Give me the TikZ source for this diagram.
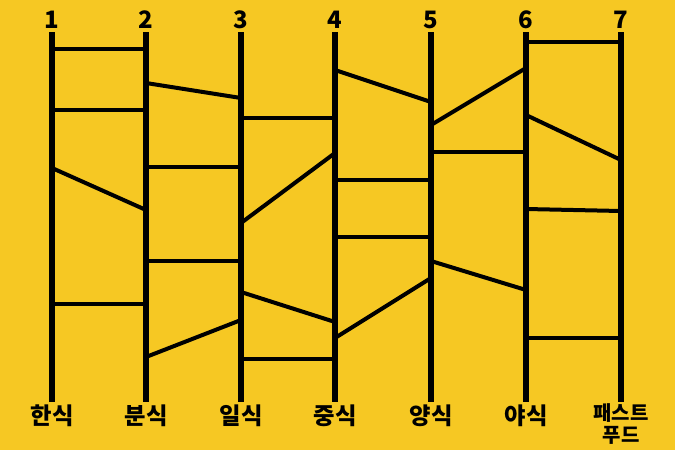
\documentclass[tikz,border=0pt]{standalone}
\usepackage{fontspec}
\newfontfamily\kr{Noto Sans CJK KR Black}
\usetikzlibrary{calc}
\definecolor{ladderyellow}{HTML}{F6C823}

\begin{document}
\begin{tikzpicture}[x=0.75pt,y=-0.75pt]
  \tikzstyle{leg}=[line width=4.2pt]
  \tikzstyle{rung}=[line width=3pt]
  \tikzstyle{num}=[font=\kr\fontsize{18}{18}\selectfont]
  \tikzstyle{food}=[font=\kr\fontsize{17.5}{17.5}\selectfont]
  \fill[ladderyellow] (0,0) rectangle (675,450);
  % legs of the ladder
  \foreach \i/\x/\name in {1/52/한식,2/146/분식,3/241/일식,4/335/중식,5/431/양식,6/526/야식}{
    \node[num] (n\i) at (\x,20) {\i};
    \node[food] (f\i) at (\x,416) {\name};
    \coordinate (t\i) at (\x,32);
    \coordinate (b\i) at (\x,402);
  }
  \node[num] (n7) at (621,20) {7};
  \node[food,font=\kr\fontsize{15}{17}\selectfont,align=center] (f7) at (621,424) {패스트\\푸드};
  \coordinate (t7) at (621,32);
  \coordinate (b7) at (621,402);
  \foreach \i in {1,...,7}
    \draw[leg] (t\i) -- (b\i);
  % rungs
  \foreach \a/\b/\ya/\yb in {1/2/49/49,1/2/110/110,1/2/168/210,1/2/304/304,
      2/3/83/98,2/3/167/167,2/3/261/261,2/3/357/320,
      3/4/118/118,3/4/223/153,3/4/292/322,3/4/359/359,
      4/5/70/102,4/5/180/180,4/5/237/237,4/5/338/278,
      5/6/125/68,5/6/152/152,5/6/261/290,
      6/7/42/42,6/7/115/160,6/7/209/211,6/7/338/338}
    \draw[rung] ($(t\a)+(0,\ya-32)$) -- ($(t\b)+(0,\yb-32)$);
\end{tikzpicture}
\end{document}
